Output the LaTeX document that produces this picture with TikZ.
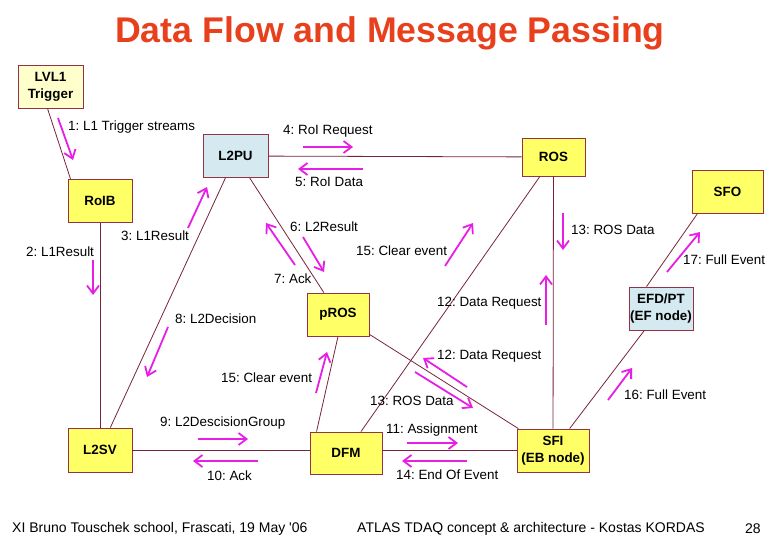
\documentclass[tikz,border=0pt]{standalone}
\usepackage{fontspec}
\setmainfont{Liberation Sans}
\usetikzlibrary{arrows.meta}
\definecolor{boxline}{RGB}{150,50,70}
\definecolor{linkline}{RGB}{120,35,60}
\definecolor{msgpink}{RGB}{230,30,230}
\definecolor{boxyellow}{RGB}{255,255,102}
\definecolor{paleyellow}{RGB}{255,255,204}
\definecolor{paleblue}{RGB}{212,234,240}
\definecolor{titlered}{RGB}{232,64,28}
\frenchspacing

\begin{document}
\begin{tikzpicture}[x=1bp, y=-1bp,
    font=\fontsize{13.4bp}{15bp}\selectfont,
    box/.style={draw=boxline, line width=0.9bp, fill=boxyellow, minimum width=64bp,
      minimum height=43bp, inner sep=1bp, align=center,
      font=\fontsize{13.4bp}{17bp}\selectfont\bfseries},
    link/.style={draw=linkline, line width=0.8bp},
    msg/.style={draw=msgpink, line width=1.8bp, -{Straight Barb[length=8bp, width=12bp]}},
    lbl/.style={anchor=west, inner sep=0pt}]
    \useasboundingbox (0,0) rectangle (780,540);

    \node[font=\fontsize{35.7bp}{38bp}\selectfont\bfseries, text=titlered] (title) at (390,33)
      {Data Flow and Message Passing};

    \node[box, fill=paleyellow, minimum width=65bp] (lvl1) at (50.5,86.5) {LVL1\\Trigger};
    \node[box, fill=paleblue, minimum width=65bp] (l2pu) at (235.5,156) {L2PU};
    \node[box] (roib) at (100,201) {RoIB};
    \node[box, minimum width=63bp, minimum height=38bp] (ros) at (553.5,157) {ROS};
    \node[box, minimum width=71bp] (sfo) at (727.5,191.5) {SFO};
    \node[box, minimum width=62bp] (pros) at (338,314.5) {pROS};
    \node[box, minimum height=44bp] (l2sv) at (100,450) {L2SV};
    \node[box, minimum width=72bp, minimum height=42bp] (dfm) at (346,453) {DFM};
    \node[box, minimum width=72bp] (sfi) at (553,450.5) {SFI\\(EB node)};
    \node[box, fill=paleblue] (efd) at (661,308.5) {EFD/PT\\(EF node)};

    \draw[link] ([xshift=-3bp]lvl1.south) -- ([xshift=3bp]roib.north west);
    \draw[link] (roib) -- (l2sv);
    \draw[link] (l2pu) -- (ros);
    \draw[link] (l2pu) -- (l2sv);
    \draw[link] (l2pu) -- (pros);
    \draw[link] (l2sv.east) -- (l2sv.east -| dfm.west);
    \draw[link] (sfi.west) -- (sfi.west -| dfm.east);
    \draw[link] (pros.south) -- ([xshift=7bp]dfm.north west);
    \draw[link] (ros) -- (dfm);
    \draw[link] (pros) -- (sfi);
    \draw[link] (ros) -- (sfi);
    \draw[link] (sfi) -- (efd);
    \draw[link] ([xshift=18bp]efd.north west) -- ([xshift=6bp]sfo.south west);

    \foreach \x/\y/\txt [count=\i] in {68/127/{1: L1 Trigger streams}, 26/252/{2: L1Result},
      121/236/{3: L1Result}, 283/131/{4: RoI Request}, 295/182/{5: RoI Data},
      290/227/{6: L2Result}, 274/279/{7: Ack}, 175/319/{8: L2Decision},
      160/423/{9: L2DescisionGroup}, 207/476/{10: Ack}, 386/430/{11: Assignment},
      437/303/{12: Data Request}, 437/356/{12: Data Request}, 571/230/{13: ROS Data},
      370/401/{13: ROS Data}, 396/475/{14: End Of Event}, 356/251/{15: Clear event},
      221/378/{15: Clear event}, 624/395/{16: Full Event}, 683/260/{17: Full Event}}
      { \node[lbl] (msg\i) at (\x,\y) {\txt}; }

    \foreach \xa/\ya/\xb/\yb in {58/118/73/160, 93/260/93/295, 188/228/207/187,
      303/147/353/147, 363/169/298/169, 303/237/324/272, 295/265/266/223,
      168/327/147/377, 198/439/248/439, 258/461/193/461, 316/393/327/352,
      445/266/473/223, 546/325/546/275, 563/213/563/250, 467/387/423/358,
      415/372/473/408, 407/443/458/443, 467/461/402/461, 608/400/632/368,
      667/272/700/232}
      { \draw[msg] (\xa,\ya) -- (\xb,\yb); }

    \node[lbl, font=\fontsize{14bp}{16bp}\selectfont] (foot1) at (12,529)
      {XI Bruno Touschek school, Frascati, 19 May \textquotesingle 06};
    \node[lbl, font=\fontsize{14bp}{16bp}\selectfont] (foot2) at (357,529)
      {ATLAS TDAQ concept \& architecture - Kostas KORDAS};
    \node[lbl, font=\fontsize{14bp}{16bp}\selectfont] (page) at (745,529) {28};
  \end{tikzpicture}
\end{document}
